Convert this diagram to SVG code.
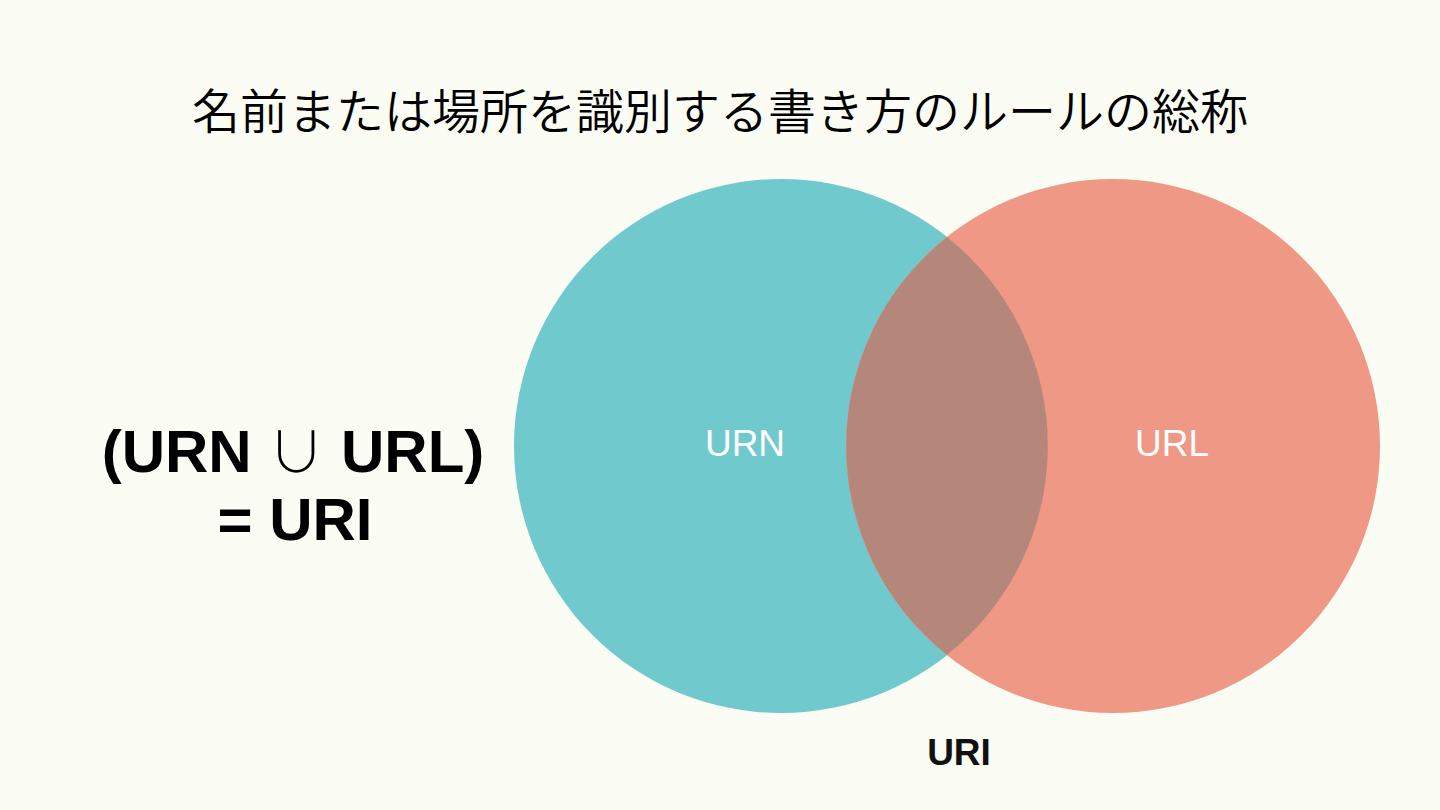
<svg xmlns="http://www.w3.org/2000/svg" width="1440" height="810" viewBox="0 0 1440 810">
  <style>
    .title { font-family: "Noto Sans CJK JP", "Noto Sans", sans-serif; font-size: 48px; font-weight: 350; fill: #000; }
    .formula { font-family: "Liberation Sans", Arial, sans-serif; font-size: 60px; font-weight: bold; fill: #000; }
    .thin { font-family: "Noto Sans CJK JP", sans-serif; font-weight: 300; font-size: 56px; }
    .inner { font-family: "Liberation Sans", Arial, sans-serif; font-size: 37px; fill: #ffffff; }
    .uri { font-family: "Liberation Sans", Arial, sans-serif; font-size: 37px; font-weight: bold; fill: #111; }
  </style>
  <rect width="1440" height="810" fill="#FBFCF3"/>
  <text class="title" x="720" y="129" text-anchor="middle">名前または場所を識別する書き方のルールの総称</text>
  <g id="formula">
    <text class="formula" x="293" y="472" text-anchor="middle">(URN <tspan class="thin">∪</tspan> URL)</text>
    <text class="formula" x="295" y="540" text-anchor="middle">= URI</text>
  </g>
  <g id="urn">
    <circle cx="781" cy="446" r="267" fill="#70CACD"/>
  </g>
  <g id="url">
    <circle cx="1113" cy="446" r="267" fill="#F09886"/>
  </g>
  <g id="overlap">
    <path d="M947 237 A267 267 0 0 1 947 655 A267 267 0 0 1 947 237 Z" fill="#B5877B"/>
  </g>
  <g id="labels">
    <text class="inner" x="745" y="456" text-anchor="middle">URN</text>
    <text class="inner" x="1172" y="456" text-anchor="middle">URL</text>
    <text class="uri" x="959" y="765" text-anchor="middle">URI</text>
  </g>
  <g id="connectors"/>
</svg>
